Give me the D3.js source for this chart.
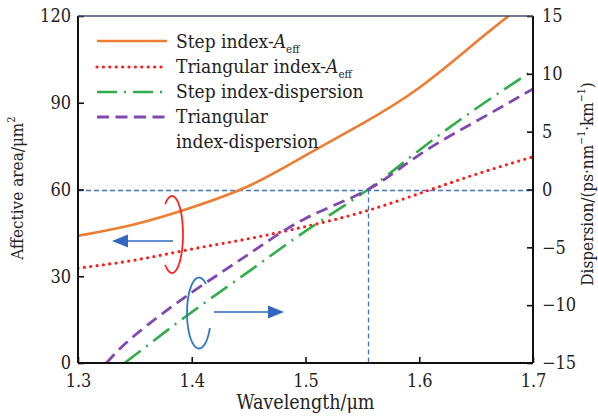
<!DOCTYPE html>
<html>
<head>
<meta charset="utf-8">
<script src="https://cdn.jsdelivr.net/npm/d3@7"></script>
<style>
  html, body { margin: 0; padding: 0; background: #fff; }
  svg { display: block; }
  svg text { font-family: "DejaVu Serif Condensed", "DejaVu Serif", serif; font-stretch: condensed; }
</style>
</head>
<body>
<svg id="chart" width="598" height="418"></svg>
<script>
// Wavelength samples (µm) and values for each curve
const stepAeffWl    = [1.30, 1.35, 1.40, 1.45, 1.50, 1.55, 1.60, 1.65, 1.68];
const stepAeff      = [44.0, 48.0, 53.8, 61.2, 71.8, 82.8, 95.2, 111.0, 120.5];

const triAeffWl     = [1.30, 1.35, 1.40, 1.45, 1.50, 1.55, 1.60, 1.65, 1.70];
const triAeff       = [32.8, 35.6, 39.4, 43.0, 47.2, 52.2, 58.6, 65.3, 71.3];

const stepDispWl    = [1.341, 1.40, 1.45, 1.50, 1.555, 1.60, 1.65, 1.70];
const stepDisp      = [-15.0, -10.6, -7.1, -3.6, 0.0, 3.4, 7.0, 10.3];

const triDispWl     = [1.325, 1.35, 1.40, 1.45, 1.50, 1.555, 1.60, 1.65, 1.70];
const triDisp       = [-15.0, -12.6, -8.9, -5.6, -2.5, 0.0, 3.0, 5.9, 8.7];

const xTicks     = [1.3, 1.4, 1.5, 1.6, 1.7];
const yLeftTicks = [0, 30, 60, 90, 120];
const yRightTicks = [-15, -10, -5, 0, 5, 10, 15];

const zeroWavelength = 1.555;   // zero-dispersion wavelength
const legendItems = [
  { key: "stepAeff", parts: [["Step index-", false], ["A", true], ["eff", "sub"]] },
  { key: "triAeff",  parts: [["Triangular index-", false], ["A", true], ["eff", "sub"]] },
  { key: "stepDisp", parts: [["Step index-dispersion", false]] },
  { key: "triDisp",  parts: [["Triangular", false]], second: "index-dispersion" }
];

const styles = {
  stepAeff: { color: "#ed7d31", width: 2.6, dash: null, cap: "butt" },
  triAeff:  { color: "#ff1a1a", width: 3.2, dash: "0 6.4", cap: "round" },
  stepDisp: { color: "#2fae49", width: 2.6, dash: "20 7 2 7", cap: "butt" },
  triDisp:  { color: "#8048b0", width: 2.8, dash: "12 6.5", cap: "butt" }
};

const svg = d3.select("#chart");
const m = { left: 78, right: 533, top: 16, bottom: 363 };

const x  = d3.scaleLinear().domain([1.3, 1.7]).range([m.left, m.right]);
const yL = d3.scaleLinear().domain([0, 120]).range([m.bottom, m.top]);
const yR = d3.scaleLinear().domain([-15, 15]).range([m.bottom, m.top]);

svg.append("defs").append("clipPath").attr("id", "plotClip")
  .append("rect").attr("x", m.left).attr("y", m.top)
  .attr("width", m.right - m.left).attr("height", m.bottom - m.top);

const refBlue = "#4472c4";

// Reference lines: zero dispersion and zero-dispersion wavelength
svg.append("line")
  .attr("x1", m.left).attr("x2", m.right)
  .attr("y1", Math.round(yR(0)) + 0.5).attr("y2", Math.round(yR(0)) + 0.5)
  .attr("stroke", refBlue).attr("stroke-width", 1.3).attr("stroke-dasharray", "5 3");
svg.append("line")
  .attr("x1", Math.round(x(zeroWavelength)) + 0.5).attr("x2", Math.round(x(zeroWavelength)) + 0.5)
  .attr("y1", yR(0)).attr("y2", m.bottom + 2)
  .attr("stroke", refBlue).attr("stroke-width", 1.3).attr("stroke-dasharray", "5 3");

// Curves
const plot = svg.append("g").attr("clip-path", "url(#plotClip)");
function drawCurve(wl, vals, yScale, st) {
  const line = d3.line().x((d, i) => x(wl[i])).y(d => yScale(d)).curve(d3.curveNatural);
  const p = plot.append("path").datum(vals)
    .attr("d", line).attr("fill", "none")
    .attr("stroke", st.color).attr("stroke-width", st.width)
    .attr("stroke-linecap", st.cap);
  if (st.dash) p.attr("stroke-dasharray", st.dash);
}
drawCurve(stepAeffWl, stepAeff, yL, styles.stepAeff);
drawCurve(triAeffWl, triAeff, yL, styles.triAeff);
drawCurve(stepDispWl, stepDisp, yR, styles.stepDisp);
drawCurve(triDispWl, triDisp, yR, styles.triDisp);

// Axes (ticks point inward)
const fontSize = 18;
const legendSize = 19;
const gB = svg.append("g").attr("transform", `translate(0,${m.bottom})`)
  .call(d3.axisBottom(x).tickValues(xTicks).tickSize(-6).tickPadding(11).tickFormat(d3.format(".1f")));
const gL = svg.append("g").attr("transform", `translate(${m.left},0)`)
  .call(d3.axisLeft(yL).tickValues(yLeftTicks).tickSize(-6).tickPadding(7));
const gR = svg.append("g").attr("transform", `translate(${m.right},0)`)
  .call(d3.axisRight(yR).tickValues(yRightTicks).tickSize(-6).tickPadding(9)
    .tickFormat(d => d < 0 ? "\u2212" + Math.abs(d) : String(d)));

[gB, gL, gR].forEach(g => {
  g.attr("font-family", null).attr("font-size", null);
  g.selectAll(".domain").attr("stroke", "#111").attr("stroke-width", 2);
  g.selectAll(".tick line").attr("stroke", "#111").attr("stroke-width", 1.6);
  g.selectAll("text").attr("font-size", fontSize).attr("fill", "#222");
});
gB.selectAll(".domain").attr("d", `M${m.left},0H${m.right}`);
gL.selectAll(".domain").attr("d", `M0,${m.bottom}V${m.top}`);
gR.selectAll(".domain").attr("d", `M0,${m.bottom}V${m.top}`);

// Top frame line
svg.append("line")
  .attr("x1", m.left).attr("x2", m.right)
  .attr("y1", m.top).attr("y2", m.top)
  .attr("stroke", "#44506a").attr("stroke-width", 1.6);

// Axis titles
svg.append("text").attr("x", (m.left + m.right) / 2).attr("y", 409)
  .attr("text-anchor", "middle").attr("font-size", 19.5).attr("fill", "#222")
  .text("Wavelength/\u03bcm");

const tl = svg.append("text")
  .attr("transform", "translate(23,188) rotate(-90)")
  .attr("text-anchor", "middle").attr("font-size", 17).attr("fill", "#222");
tl.append("tspan").text("Affective area/\u03bcm");
tl.append("tspan").attr("font-size", 11).attr("dy", -8).text("2");

const tr = svg.append("text")
  .attr("transform", "translate(593,184) rotate(-90)")
  .attr("text-anchor", "middle").attr("font-size", 17).attr("fill", "#222");
tr.append("tspan").text("Dispersion/(ps\u00b7nm");
tr.append("tspan").attr("font-size", 10.5).attr("dy", -8).text("\u22121");
tr.append("tspan").attr("dy", 8).text("\u00b7km");
tr.append("tspan").attr("font-size", 10.5).attr("dy", -8).text("\u22121");
tr.append("tspan").attr("dy", 8).text(")");

// Legend
const legend = svg.append("g");
const rowY = [41, 67, 92, 117];
const baseY = [48, 73, 98, 122.5];
legendItems.forEach((item, i) => {
  const st = styles[item.key];
  const ln = legend.append("line")
    .attr("x1", 97).attr("x2", 167).attr("y1", rowY[i]).attr("y2", rowY[i])
    .attr("stroke", st.color).attr("stroke-width", st.width)
    .attr("stroke-linecap", st.cap);
  if (st.dash) ln.attr("stroke-dasharray", st.dash);
  const t = legend.append("text").attr("x", 176).attr("y", baseY[i])
    .attr("font-size", legendSize).attr("fill", "#222");
  item.parts.forEach(([s, kind]) => {
    const sp = t.append("tspan").text(s);
    if (kind === true) sp.attr("font-style", "italic");
    if (kind === "sub") sp.attr("font-size", 11.5).attr("dy", 5);
  });
  if (item.second) {
    legend.append("text").attr("x", 176).attr("y", baseY[i] + 25)
      .attr("font-size", legendSize).attr("fill", "#222").text(item.second);
  }
});

// Curl markers and arrows pointing to the matching axis
function ellipseArc(cx, cy, rx, ry, t0, t1) {
  const n = 60, pts = [];
  for (let k = 0; k <= n; k++) {
    const t = (t0 + (t1 - t0) * k / n) * Math.PI / 180;
    pts.push([cx + rx * Math.cos(t), cy + ry * Math.sin(t)]);
  }
  return d3.line()(pts);
}
svg.append("path").attr("d", ellipseArc(172, 234.5, 11, 38.5, -128, 128))
  .attr("fill", "none").attr("stroke", "#ff2424").attr("stroke-width", 1.8);
svg.append("path").attr("d", ellipseArc(199, 313, 12, 35.5, -55, -335))
  .attr("fill", "none").attr("stroke", "#2e75c4").attr("stroke-width", 1.8);

const arrowBlue = "#3169c0";
function arrow(xStart, xTip, yy, dir) {
  const head = 16, half = 6.5;
  svg.append("line").attr("x1", xStart).attr("x2", xTip - dir * head + dir * 2)
    .attr("y1", yy).attr("y2", yy).attr("stroke", arrowBlue).attr("stroke-width", 1.6);
  svg.append("path")
    .attr("d", `M${xTip},${yy}L${xTip - dir * head},${yy - half}L${xTip - dir * head},${yy + half}Z`)
    .attr("fill", arrowBlue);
}
arrow(173, 112, 241, -1);
arrow(214, 284, 312, 1);
</script>
</body>
</html>
